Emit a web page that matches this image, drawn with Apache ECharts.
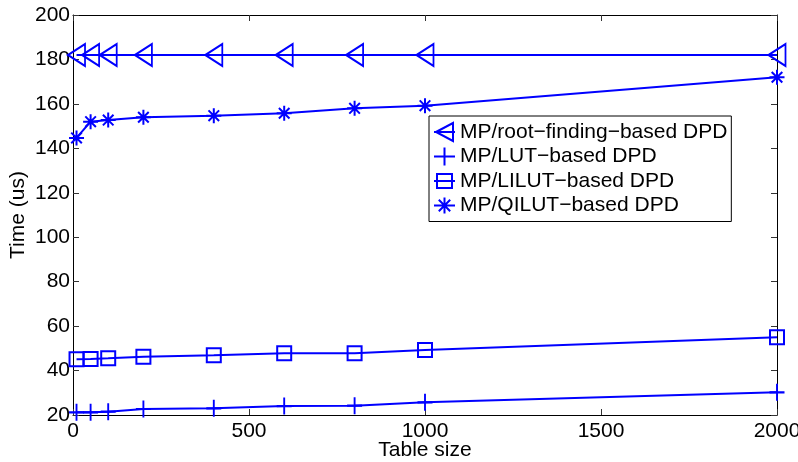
<!DOCTYPE html>
<html>
<head>
<meta charset="utf-8">
<script src="https://cdn.jsdelivr.net/npm/echarts@6/dist/echarts.min.js"></script>
<style>
html,body{margin:0;padding:0;background:#fff;}
#chart{width:798px;height:462px;}
</style>
</head>
<body>
<div id="chart"></div>
<script>
var tableSize = [10, 50, 100, 200, 400, 600, 800, 1000, 2000];
var rootFinding = [182, 182, 182, 182, 182, 182, 182, 182, 182];
var lut = [21.2, 21.2, 21.5, 22.7, 23.0, 24.0, 24.2, 25.7, 30.2];
var lilut = [45.1, 45.2, 45.5, 46.2, 46.9, 47.8, 47.8, 49.3, 55.0];
var qilut = [144.7, 152.0, 152.7, 154.0, 154.7, 155.8, 158.0, 159.2, 172.0];
var seriesNames = ['MP/root\u2212finding\u2212based DPD', 'MP/LUT\u2212based DPD', 'MP/LILUT\u2212based DPD', 'MP/QILUT\u2212based DPD'];
var xTicks = [0, 500, 1000, 1500, 2000];
var yTicks = [20, 40, 60, 80, 100, 120, 140, 160, 180, 200];

var FONT = 'Liberation Sans, Arial, Helvetica, sans-serif';
var BLUE = '#0000ff';

function pairs(ys) { return tableSize.map(function (x, i) { return [x, ys[i]]; }); }

var symbols = [
  { symbol: 'path://M0,11 L17,0 L17,22 Z', size: [17, 22] },
  { symbol: 'path://M8,0 L8,17 M0,8.5 L16,8.5', size: [15, 17] },
  { symbol: 'path://M0,0 L14,0 L14,14 L0,14 Z', size: [14, 14] },
  { symbol: 'path://M7.5,0 L7.5,15 M0,7.5 L15,7.5 M2.2,2.2 L12.8,12.8 M12.8,2.2 L2.2,12.8', size: [15, 15] }
];
var legendIcons = [
  'path://M0,0 M21,20 M2,10 L19,1 L19,19 Z M0,10 L21,10',
  'path://M0,0 M21,20 M10.5,1 L10.5,19 M0,10 L21,10',
  'path://M0,0 M21,20 M3,3 L18,3 L18,17 L3,17 Z M0,10 L21,10',
  'path://M0,0 M21,20 M10.5,2 L10.5,18 M0,10 L21,10 M4.8,4.3 L16.2,15.7 M16.2,4.3 L4.8,15.7'
];
var allData = [rootFinding, lut, lilut, qilut];

var series = allData.map(function (d, i) {
  return {
    name: seriesNames[i],
    type: 'line',
    xAxisIndex: 0,
    yAxisIndex: 0,
    data: pairs(d),
    symbol: symbols[i].symbol,
    symbolSize: symbols[i].size,
    showSymbol: true,
    showAllSymbol: true,
    lineStyle: { color: BLUE, width: 2 },
    itemStyle: { color: 'rgba(0,0,0,0)', borderColor: BLUE, borderWidth: 2 },
    emphasis: { disabled: true },
    animation: false,
    z: 3
  };
});

function axisCommon(extra) {
  var base = {
    type: 'value',
    axisLine: { show: true, onZero: false, lineStyle: { color: '#000', width: 1 } },
    axisTick: { show: true, inside: true, length: 6, lineStyle: { color: '#333', width: 1 } },
    splitLine: { show: false },
    axisLabel: { show: false }
  };
  for (var k in extra) base[k] = extra[k];
  return base;
}
function plain(v) { return String(v); }

var chart = echarts.init(document.getElementById('chart'), null, { renderer: 'canvas' });
chart.setOption({
  animation: false,
  backgroundColor: '#fff',
  grid: { left: 73, right: 21, top: 15, bottom: 47, containLabel: false, outerBoundsMode: 'none' },
  xAxis: [
    axisCommon({
      position: 'bottom', min: xTicks[0], max: xTicks[xTicks.length - 1], interval: 500,
      name: 'Table size', nameLocation: 'middle', nameGap: 25, nameMoveOverlap: false,
      nameTextStyle: { color: '#000', fontSize: 21, fontFamily: FONT },
      axisLabel: { show: true, color: '#000', fontSize: 21, fontFamily: FONT, margin: 6, formatter: plain }
    }),
    axisCommon({ position: 'top', min: xTicks[0], max: xTicks[xTicks.length - 1], interval: 500 })
  ],
  yAxis: [
    axisCommon({
      position: 'left', min: yTicks[0], max: yTicks[yTicks.length - 1], interval: 20,
      name: 'Time (us)', nameLocation: 'middle', nameGap: 44, nameMoveOverlap: false,
      nameTextStyle: { color: '#000', fontSize: 21, fontFamily: FONT },
      axisLabel: { show: true, color: '#000', fontSize: 21, fontFamily: FONT, margin: 3, formatter: plain }
    }),
    axisCommon({ position: 'right', min: yTicks[0], max: yTicks[yTicks.length - 1], interval: 20 })
  ],
  legend: {
    orient: 'vertical',
    left: 429,
    top: 116,
    padding: [5, 4, 5, 4],
    itemWidth: 21,
    itemHeight: 20,
    itemGap: 2.5,
    backgroundColor: '#fff',
    borderColor: '#000',
    borderWidth: 1,
    borderRadius: 0,
    selectedMode: false,
    itemStyle: { color: 'rgba(0,0,0,0)', borderColor: BLUE, borderWidth: 2 },
    textStyle: { color: '#000', fontSize: 21, fontFamily: FONT },
    data: seriesNames.map(function (n, i) { return { name: n, icon: legendIcons[i] }; })
  },
  series: series
});
</script>
</body>
</html>
